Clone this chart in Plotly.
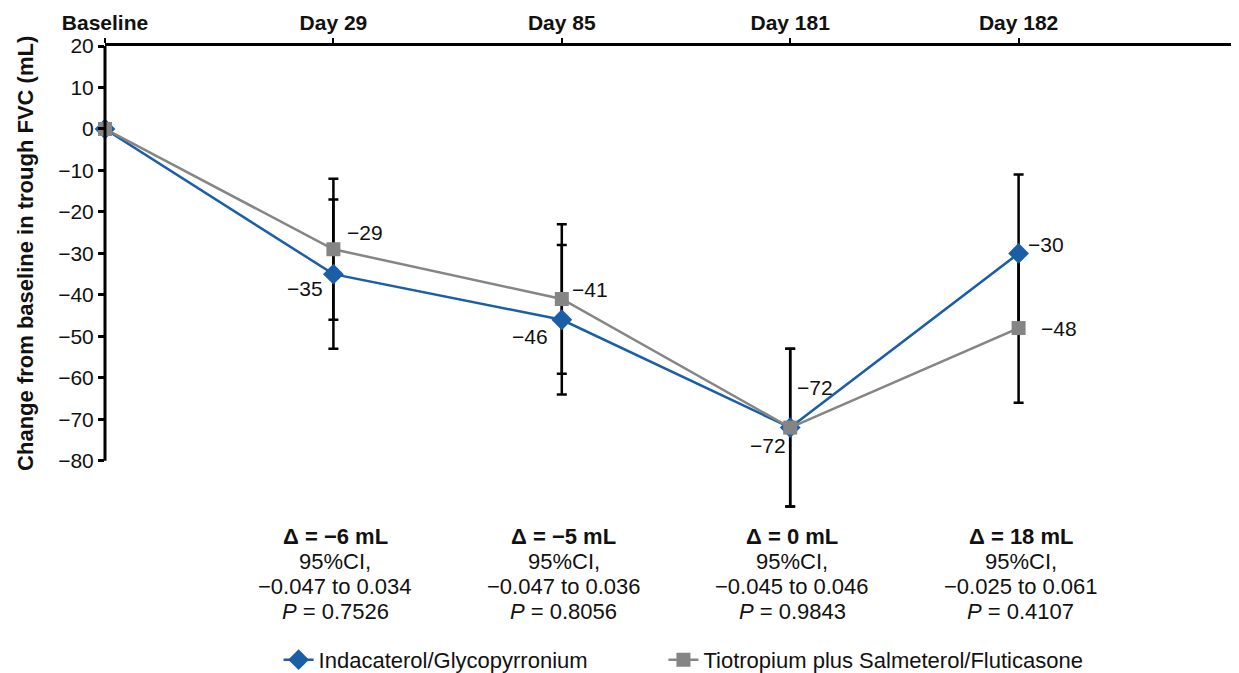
import plotly.graph_objects as go

visits = ["Baseline", "Day 29", "Day 85", "Day 181", "Day 182"]
indaca = [0, -35, -46, -72, -30]
indaca_err = [0, 18, 18, 19, 19]
tiotro = [0, -29, -41, -72, -48]
tiotro_err = [0, 17, 18, 19, 18]
ytick_vals = [20, 10, 0, -10, -20, -30, -40, -50, -60, -70, -80]
deltas = ["Δ = −6 mL", "Δ = −5 mL", "Δ = 0 mL", "Δ = 18 mL"]
ci_text = ["−0.047 to 0.034", "−0.047 to 0.036", "−0.045 to 0.046", "−0.025 to 0.061"]
p_vals = ["0.7526", "0.8056", "0.9843", "0.4107"]

BLUE = "#1a5ea8"
GRAY = "#858585"
FONT = "Liberation Sans, Arial, sans-serif"
FS = 21

fig = go.Figure()

# error bars (drawn beneath lines/markers)
for vals, errs in [(indaca, indaca_err), (tiotro, tiotro_err)]:
    fig.add_trace(go.Scatter(
        x=visits, y=vals, mode="markers",
        marker=dict(size=1, color="rgba(0,0,0,0)"),
        error_y=dict(type="data", array=errs, visible=True,
                     color="black", thickness=2.5, width=5),
        showlegend=False, hoverinfo="skip", cliponaxis=False))

fig.add_trace(go.Scatter(
    x=visits, y=indaca, mode="lines+markers", name="Indacaterol/Glycopyrronium",
    line=dict(color=BLUE, width=2.5), legend="legend",
    marker=dict(symbol="diamond", size=16, color=BLUE), cliponaxis=False))
fig.add_trace(go.Scatter(
    x=visits, y=tiotro, mode="lines+markers", name="Tiotropium plus Salmeterol/Fluticasone",
    line=dict(color=GRAY, width=2.5), legend="legend2",
    marker=dict(symbol="square", size=14, color=GRAY), cliponaxis=False))

# value labels
label_offsets_ind = [None, (-28, -14), (-32, -17), (-22, -18), (27, 9)]
label_offsets_tio = [None, (32, 17), (28, 10), (25, 40), (40, 0)]
for i in range(1, 5):
    dx, dy = label_offsets_ind[i]
    fig.add_annotation(x=visits[i], y=indaca[i], text=f"−{abs(indaca[i])}",
                       showarrow=False, xshift=dx, yshift=dy,
                       font=dict(size=FS, color="#111", family=FONT))
    dx, dy = label_offsets_tio[i]
    fig.add_annotation(x=visits[i], y=tiotro[i], text=f"−{abs(tiotro[i])}",
                       showarrow=False, xshift=dx, yshift=dy,
                       font=dict(size=FS, color="#111", family=FONT))

# delta annotations, one line each
for i in range(4):
    lines = [f"<b>{deltas[i]}</b>", "95%CI,", ci_text[i], f"<i>P</i> = {p_vals[i]}"]
    for j, t in enumerate(lines):
        fig.add_annotation(
            x=visits[i + 1], y=0, yref="paper", yanchor="middle", xshift=2,
            yshift=-13 - 25.3 * j, text=t, showarrow=False, align="center",
            font=dict(size=22, color="#111", family=FONT))

# y-axis title centred on the labelled tick range
fig.add_annotation(x=0, xref="paper", y=-30, yref="y", xshift=-94,
                   text="<b>Change from baseline in trough FVC (mL)</b>",
                   textangle=-90, showarrow=False,
                   font=dict(size=22, color="#111", family=FONT))

# y-axis line limited to tick range
fig.add_shape(type="line", xref="paper", x0=0, x1=0, yref="y", y0=-80, y1=20,
              line=dict(color="black", width=3))

leg_common = dict(orientation="h", y=-0.287, yanchor="middle", xanchor="left",
                  font=dict(size=22, color="#111"), bgcolor="rgba(0,0,0,0)")
fig.update_layout(
    width=1239, height=673,
    margin=dict(l=97, r=0, t=38, b=158),
    paper_bgcolor="white", plot_bgcolor="white",
    font=dict(family=FONT, size=FS, color="#111"),
    xaxis=dict(type="category", categoryorder="array", categoryarray=visits,
               side="top", range=[0, 5.0], automargin=False,
               tickvals=visits, ticktext=[f"<b>{v}</b>" for v in visits],
               showline=True, linecolor="black", linewidth=3,
               ticks="outside", ticklen=5, tickwidth=2, tickcolor="black",
               showgrid=False, zeroline=False, tickfont=dict(size=FS, color="#111")),
    yaxis=dict(range=[-95, 20], tickvals=ytick_vals, automargin=False,
               ticktext=[str(v).replace("-", "−") for v in ytick_vals],
               showline=False, ticks="outside", ticklen=6, tickwidth=3,
               tickcolor="black", showgrid=False, zeroline=False,
               tickfont=dict(size=FS, color="#111")),
    legend=dict(x=0.152, **leg_common),
    legend2=dict(x=0.489, **leg_common),
)

fig.write_html("out.html")
